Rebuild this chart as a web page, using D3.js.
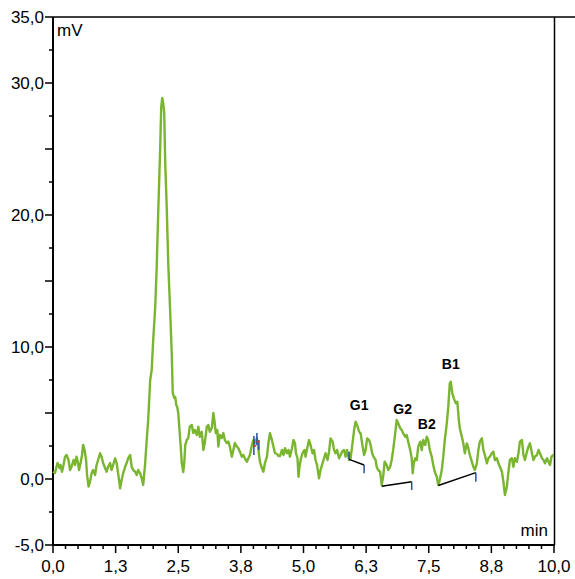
<!DOCTYPE html>
<html>
<head>
<meta charset="utf-8">
<script src="https://cdn.jsdelivr.net/npm/d3@7"></script>
<style>
  body { margin: 0; background: #fff; }
  svg { font-family: "Liberation Sans", Arial, sans-serif; }
</style>
</head>
<body>
<div id="wrap"></div>
<script>
// signal: time in min, signal in mV
var times = [0.00,0.04,0.07,0.09,0.13,0.15,0.18,0.21,0.24,0.27,0.31,0.34,0.37,0.41,0.44,0.47,0.50,0.52,0.55,0.58,
  0.60,0.63,0.66,0.68,0.71,0.74,0.77,0.80,0.84,0.87,0.90,0.94,0.97,1.00,1.04,1.07,1.10,1.14,1.17,1.20,
  1.24,1.27,1.30,1.34,1.37,1.40,1.44,1.47,1.50,1.54,1.57,1.60,1.64,1.67,1.70,1.74,1.77,1.80,1.84,1.87,
  1.90,1.94,1.97,2.00,2.04,2.07,2.10,2.14,2.16,2.18,2.20,2.22,2.24,2.27,2.30,2.34,2.37,2.39,2.42,2.44,
  2.46,2.48,2.50,2.52,2.55,2.57,2.60,2.62,2.64,2.67,2.70,2.73,2.77,2.80,2.83,2.87,2.90,2.93,2.97,3.00,
  3.03,3.07,3.10,3.13,3.17,3.20,3.22,3.25,3.28,3.30,3.33,3.37,3.40,3.43,3.47,3.50,3.53,3.57,3.60,3.63,
  3.67,3.70,3.73,3.77,3.80,3.83,3.87,3.90,3.93,3.97,4.00,4.03,4.07,4.10,4.13,4.16,4.20,4.23,4.27,4.30,
  4.33,4.37,4.40,4.43,4.47,4.50,4.53,4.57,4.60,4.63,4.67,4.70,4.73,4.77,4.80,4.83,4.85,4.88,4.90,4.92,
  4.95,4.98,5.02,5.04,5.08,5.11,5.14,5.18,5.21,5.24,5.27,5.31,5.34,5.38,5.41,5.44,5.48,5.51,5.54,5.58,
  5.61,5.64,5.67,5.71,5.74,5.77,5.81,5.84,5.87,5.91,5.94,5.97,6.01,6.04,6.07,6.11,6.14,6.17,6.21,6.24,
  6.27,6.31,6.34,6.37,6.40,6.44,6.46,6.49,6.53,6.56,6.59,6.62,6.66,6.69,6.73,6.76,6.79,6.83,6.86,6.89,
  6.93,6.96,6.99,7.03,7.06,7.09,7.13,7.16,7.18,7.20,7.23,7.26,7.29,7.33,7.36,7.39,7.43,7.46,7.49,7.52,
  7.56,7.59,7.62,7.66,7.69,7.72,7.76,7.79,7.82,7.86,7.89,7.92,7.94,7.97,8.00,8.04,8.07,8.10,8.12,8.16,
  8.19,8.22,8.26,8.29,8.32,8.36,8.39,8.42,8.46,8.49,8.52,8.56,8.59,8.62,8.66,8.69,8.72,8.76,8.79,8.82,
  8.86,8.89,8.92,8.96,8.99,9.02,9.06,9.09,9.12,9.16,9.19,9.22,9.26,9.29,9.32,9.36,9.39,9.42,9.46,9.49,
  9.52,9.56,9.59,9.62,9.66,9.69,9.72,9.76,9.79,9.82,9.86,9.89,9.92,9.95,9.99,10.00];
var signal = [0.55,0.45,0.93,1.21,0.83,1.06,0.55,1.06,1.69,1.82,1.44,0.68,0.93,1.44,1.06,1.69,1.21,0.68,1.21,1.82,
  2.58,2.20,1.44,0.30,-0.58,-0.20,0.43,0.68,0.30,1.06,1.44,1.95,1.69,1.21,0.83,0.55,0.93,1.21,0.68,1.06,
  1.57,1.21,0.43,-0.70,-0.08,0.43,0.93,1.21,1.57,1.82,0.93,0.68,0.55,0.30,0.68,0.43,0.05,-0.45,1.21,2.95,
  4.47,7.50,8.26,10.53,13.03,16.06,20.15,25.15,28.18,28.86,28.48,27.73,23.94,20.61,16.36,12.58,9.55,6.52,6.14,6.21,
  5.61,5.45,5.00,3.94,2.42,1.21,0.53,1.21,2.58,2.95,3.11,3.96,4.09,3.48,3.71,3.33,3.96,3.20,3.58,2.20,
  2.73,3.96,4.09,3.58,3.86,5.00,4.47,3.48,3.71,2.45,3.33,3.11,3.48,2.95,2.73,2.83,2.45,1.69,2.20,2.73,
  2.45,2.33,2.07,1.69,1.82,1.57,1.31,1.57,1.82,2.58,2.95,2.73,3.11,2.20,1.31,0.93,0.55,1.21,1.69,2.73,
  3.48,2.95,2.45,1.97,1.89,1.74,1.74,2.20,1.82,2.33,1.95,2.20,1.69,2.33,2.95,2.70,1.95,1.57,0.17,0.93,
  1.57,1.95,2.20,1.69,2.45,2.95,2.58,1.95,2.20,1.44,1.06,0.05,0.68,1.19,1.57,1.95,1.44,2.07,3.08,2.83,
  2.20,1.95,2.20,1.57,1.82,2.07,2.20,1.69,2.20,1.44,1.57,2.45,3.71,4.34,4.09,3.58,3.46,2.70,1.82,2.20,
  3.08,2.95,2.58,1.95,1.67,1.44,0.93,0.68,0.55,-0.45,0.17,1.31,1.06,0.68,0.93,1.44,2.20,3.46,4.47,4.22,
  3.84,3.71,3.46,3.20,3.33,2.83,2.20,1.57,0.43,1.19,1.57,1.44,2.45,2.83,2.20,2.95,2.58,3.20,2.95,2.20,
  1.69,1.06,0.55,0.17,-0.45,-0.08,0.68,1.69,2.95,4.22,5.48,7.25,7.37,6.49,6.11,5.73,5.86,4.47,3.84,3.20,
  2.70,1.95,2.70,2.33,1.82,1.31,0.93,0.68,1.19,2.20,2.83,3.08,2.20,1.82,1.19,1.57,1.69,1.95,2.07,1.44,
  1.57,1.19,0.93,0.55,-0.20,-1.21,-0.58,0.55,1.44,1.57,0.93,1.57,1.31,1.95,2.83,2.95,1.82,1.44,2.07,2.45,
  2.70,1.95,1.44,1.69,1.82,2.20,1.95,1.57,1.44,1.19,1.57,1.31,1.06,1.69,1.82,1.82];

// integration baselines [t0, v0, t1, v1]
var baselines = [[5.91, 1.49, 6.21, 1.06], [6.56, -0.55, 7.16, -0.20], [7.69, -0.49, 8.44, 0.48]];
// blue delimiter marks [t, vTop, vBottom]
var delimiters = [[5.91, 2.07, 1.49], [6.21, 1.06, 0.43], [7.16, -0.20, -0.83], [8.44, 0.48, -0.20],
  [4.01, 3.26, 1.82], [4.07, 3.48, 2.58], [4.11, 2.95, 2.20]];
var redDots = [[4.03, 2.52], [4.09, 2.83]];

var peakNames = ["G1", "G2", "B2", "B1"];
var peakTimes = [6.11, 6.98, 7.46, 7.94];
var peakLabelVals = [5.23, 4.92, 3.79, 8.33];

var xTicks = [0, 1.25, 2.5, 3.75, 5, 6.25, 7.5, 8.75, 10];
var xTickLabels = ["0,0", "1,3", "2,5", "3,8", "5,0", "6,3", "7,5", "8,8", "10,0"];
var yLabelTicks = [35, 30, 20, 10, 0, -5];
var yLabelText = ["35,0", "30,0", "20,0", "10,0", "0,0", "-5,0"];

var W = 575, H = 579;
var mLeft = 53, mRight = 554, mTop = 17, mBottom = 545;

var svg = d3.select('#wrap').append('svg')
  .attr('width', W).attr('height', H);

var x = d3.scaleLinear().domain([0, 10]).range([mLeft, mRight]);
var y = d3.scaleLinear().domain([-5, 35]).range([mBottom, mTop]);

// frame
svg.append('line').attr('x1', mLeft).attr('x2', W).attr('y1', mTop).attr('y2', mTop)
  .attr('stroke', '#000').attr('stroke-width', 1.5);
svg.append('line').attr('x1', mRight + 0.5).attr('x2', mRight + 0.5).attr('y1', mTop).attr('y2', mBottom)
  .attr('stroke', '#000').attr('stroke-width', 1.5);

// y axis
var yMinor = d3.range(-5, 35.01, 2.5);
var yAxis = svg.append('g').attr('transform', 'translate(' + mLeft + ',0)');
yAxis.append('line').attr('x1', 0).attr('x2', 0).attr('y1', mTop).attr('y2', mBottom)
  .attr('stroke', '#000').attr('stroke-width', 2);
yAxis.selectAll('.ym').data(yMinor).enter().append('line')
  .attr('x1', 0).attr('y1', d => y(d)).attr('y2', d => y(d))
  .attr('x2', d => (d % 5 === 0) ? -8 : -4)
  .attr('stroke', '#000').attr('stroke-width', 1.5);
yAxis.selectAll('.yl').data(yLabelTicks).enter().append('text')
  .attr('x', -9).attr('y', d => y(d) + 6)
  .attr('text-anchor', 'end').attr('font-size', 17).attr('fill', '#000')
  .text((d, i) => yLabelText[i]);

// x axis
var xMinor = d3.range(0, 10.001, 0.25);
var xAxis = svg.append('g').attr('transform', 'translate(0,' + mBottom + ')');
xAxis.append('line').attr('x1', mLeft).attr('x2', mRight + 1).attr('y1', 0).attr('y2', 0)
  .attr('stroke', '#000').attr('stroke-width', 2);
xAxis.selectAll('.xm').data(xMinor).enter().append('line')
  .attr('x1', d => x(d)).attr('x2', d => x(d)).attr('y1', 0)
  .attr('y2', d => (Math.abs(d / 1.25 - Math.round(d / 1.25)) < 1e-6) ? 8 : 4)
  .attr('stroke', '#000').attr('stroke-width', 1.5);
xAxis.selectAll('.xl').data(xTicks).enter().append('text')
  .attr('x', d => x(d)).attr('y', 27)
  .attr('text-anchor', 'middle').attr('font-size', 17).attr('fill', '#000')
  .text((d, i) => xTickLabels[i]);

svg.append('text').attr('x', mLeft + 4).attr('y', 36).attr('font-size', 17).text('mV');
svg.append('text').attr('x', mRight - 6).attr('y', 536).attr('text-anchor', 'end')
  .attr('font-size', 17).text('min');

// signal trace
var pts = times.map((t, i) => [t, signal[i]]);
var line = d3.line().x(d => x(d[0])).y(d => y(d[1]));
svg.append('path').datum(pts)
  .attr('d', line)
  .attr('fill', 'none')
  .attr('stroke', '#7ab530')
  .attr('stroke-width', 2.4)
  .attr('stroke-linejoin', 'round');

// baselines
svg.selectAll('.bl').data(baselines).enter().append('line')
  .attr('x1', d => x(d[0])).attr('y1', d => y(d[1]))
  .attr('x2', d => x(d[2])).attr('y2', d => y(d[3]))
  .attr('stroke', '#000').attr('stroke-width', 1.5);

svg.selectAll('.dl').data(delimiters).enter().append('line')
  .attr('x1', d => x(d[0])).attr('x2', d => x(d[0]))
  .attr('y1', d => y(d[1])).attr('y2', d => y(d[2]))
  .attr('stroke', '#2b4aa8').attr('stroke-width', 1.5);

svg.selectAll('.rd').data(redDots).enter().append('circle')
  .attr('cx', d => x(d[0])).attr('cy', d => y(d[1])).attr('r', 1.2)
  .attr('fill', '#e03030');

// peak labels
svg.selectAll('.pl').data(peakNames).enter().append('text')
  .attr('x', (d, i) => x(peakTimes[i]))
  .attr('y', (d, i) => y(peakLabelVals[i]))
  .attr('text-anchor', 'middle')
  .attr('font-size', 14).attr('font-weight', 'bold').attr('fill', '#000')
  .text(d => d);
</script>
</body>
</html>
